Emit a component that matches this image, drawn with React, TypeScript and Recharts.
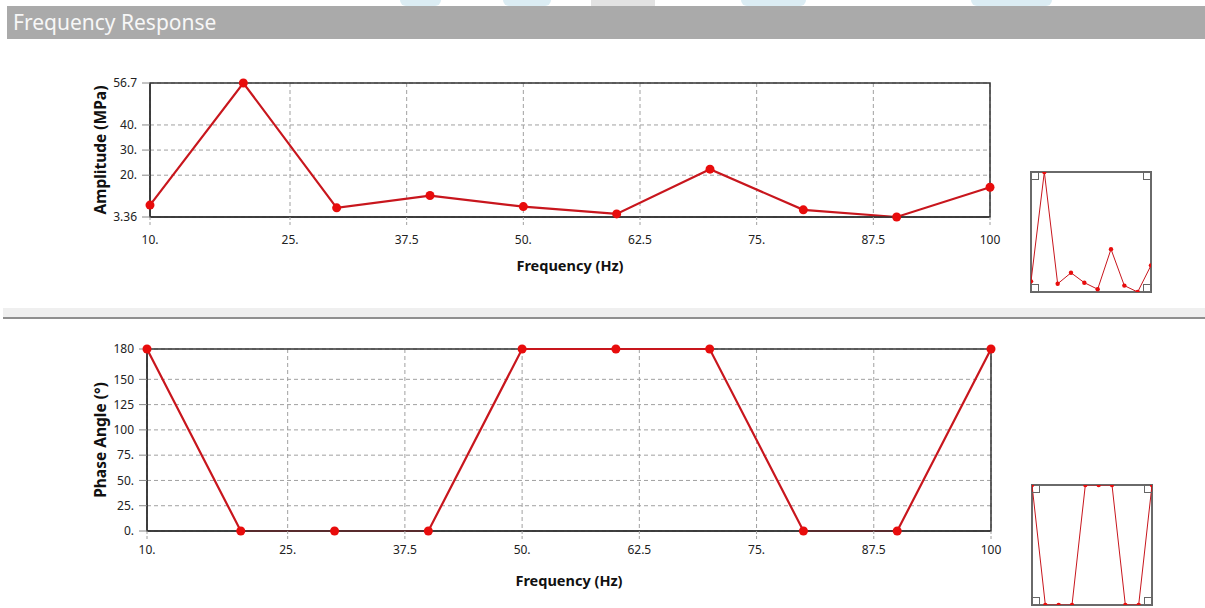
import React from 'react';
import { LineChart, Line, XAxis, YAxis, CartesianGrid, ReferenceArea, Label } from 'recharts';

// frequency sweep samples
const freqs = [10, 20, 30, 40, 50, 60, 70, 80, 90, 100];
const amplitude = [8.1, 56.7, 7.0, 11.9, 7.5, 4.6, 22.4, 6.2, 3.36, 15.2];
const phase = [180, 0, 0, 0, 180, 180, 180, 0, 0, 180];

const freqTicks = [10, 25, 37.5, 50, 62.5, 75, 87.5, 100];
const freqTickLabels = ['10.', '25.', '37.5', '50.', '62.5', '75.', '87.5', '100'];
const ampTicks = [3.36, 20, 30, 40, 56.7];
const ampTickLabels = ['3.36', '20.', '30.', '40.', '56.7'];
const phaseTicks = [0, 25, 50, 75, 100, 125, 150, 180];
const phaseTickLabels = ['0.', '25.', '50.', '75.', '100', '125', '150', '180'];

const ampData = freqs.map((f, i) => ({ freq: f, value: amplitude[i] }));
const phaseData = freqs.map((f, i) => ({ freq: f, value: phase[i] }));

const FONT = '"Noto Sans", "Open Sans", sans-serif';
const LINE = '#c8161d';
const DOT = '#e80c0c';

const fmt = (ticks: number[], labels: string[]) => (v: number) => {
  const i = ticks.indexOf(v);
  return i >= 0 ? labels[i] : String(v);
};

const tickStyle = { fontSize: 12, fill: '#222', fontFamily: FONT };
const titleStyle = { fontSize: 14.5, fontWeight: 700, fill: '#111', fontFamily: FONT };

type PanelProps = {
  data: { freq: number; value: number }[];
  yDomain: [number, number];
  yTicks: number[];
  yLabels: string[];
  yTitle: string;
  top: number;
  height: number;
  margin: { top: number; right: number; left: number; bottom: number };
  xTickMargin: number;
  xTitleOffset: number;
  yTitleOffset: number;
};

const Panel = (p: PanelProps) => (
  <div style={{ position: 'absolute', left: 0, top: p.top }}>
    <LineChart width={1020} height={p.height} data={p.data} margin={p.margin}>
      <CartesianGrid stroke="#a0a0a0" strokeDasharray="4 3" />
      <XAxis
        dataKey="freq"
        type="number"
        domain={[10, 100]}
        ticks={freqTicks}
        tickFormatter={fmt(freqTicks, freqTickLabels)}
        height={60}
        tick={tickStyle}
        tickSize={8}
        tickMargin={p.xTickMargin}
        tickLine={{ stroke: '#a0a0a0', strokeDasharray: '3 2' }}
        axisLine={{ stroke: '#333', strokeWidth: 1.5 }}
      >
        <Label value="Frequency (Hz)" position="insideTop" offset={p.xTitleOffset} style={titleStyle} />
      </XAxis>
      <YAxis
        type="number"
        domain={p.yDomain}
        ticks={p.yTicks}
        tickFormatter={fmt(p.yTicks, p.yLabels)}
        width={60}
        tick={tickStyle}
        tickSize={8}
        tickMargin={5}
        tickLine={{ stroke: '#888' }}
        axisLine={{ stroke: '#333', strokeWidth: 1.5 }}
      >
        <Label
          value={p.yTitle}
          angle={-90}
          position="insideLeft"
          offset={p.yTitleOffset}
          style={{ ...titleStyle, fontSize: 15.5, textAnchor: 'middle' }}
        />
      </YAxis>
      <ReferenceArea x1={10} x2={100} y1={p.yDomain[0]} y2={p.yDomain[1]} fill="none" stroke="#333" strokeWidth={1.5} />
      <Line
        dataKey="value"
        stroke={LINE}
        strokeWidth={2.2}
        dot={{ r: 4.5, fill: DOT, stroke: DOT, strokeWidth: 0 }}
        isAnimationActive={false}
      />
    </LineChart>
  </div>
);

// small overview thumbnail with corner handles
const Thumb = ({ data, yDomain, left, top }: { data: { freq: number; value: number }[]; yDomain: [number, number]; left: number; top: number }) => {
  const size = 122;
  const corner = (pos: React.CSSProperties) => (
    <div style={{ position: 'absolute', width: 9, height: 9, border: '1.5px solid #666', boxSizing: 'border-box', ...pos }} />
  );
  return (
    <div style={{ position: 'absolute', left, top, width: size, height: size, border: '2px solid #6a6a6a', boxSizing: 'border-box' }}>
      <div style={{ position: 'absolute', left: -1, top: -1 }}>
        <LineChart width={size - 2} height={size - 2} data={data} margin={{ top: 0, right: 0, left: 0, bottom: 0 }}>
          <XAxis dataKey="freq" type="number" domain={[10, 100]} hide />
          <YAxis type="number" domain={yDomain} hide />
          <Line dataKey="value" stroke={LINE} strokeWidth={1} dot={{ r: 2.2, fill: DOT, stroke: DOT, strokeWidth: 0 }} isAnimationActive={false} />
        </LineChart>
      </div>
      {corner({ left: -2, top: -2 })}
      {corner({ right: -2, top: -2 })}
      {corner({ left: -2, bottom: -2 })}
      {corner({ right: -2, bottom: -2 })}
    </div>
  );
};

export default function App() {
  return (
    <div style={{ position: 'absolute', left: 0, top: 0, width: 1205, height: 608, background: '#fff', overflow: 'hidden', fontFamily: FONT }}>
      {/* faint header decorations */}
      {[[400, 41], [503, 48], [741, 65], [971, 81]].map(([x, w]) => (
        <div key={x} style={{ position: 'absolute', left: x, top: 0, width: w, height: 6, background: '#dbecf3', borderRadius: '0 0 6px 6px' }} />
      ))}
      <div style={{ position: 'absolute', left: 591, top: 0, width: 64, height: 6, background: '#e2e2e2' }} />

      <div style={{ position: 'absolute', left: 7, top: 6, width: 1198, height: 33, background: '#aaaaaa' }}>
        <div style={{ position: 'absolute', left: 6, top: 2, fontSize: 21, color: '#f7f7f7', whiteSpace: 'nowrap' }}>Frequency Response</div>
      </div>

      <Panel
        data={ampData}
        yDomain={[3.36, 56.7]}
        yTicks={ampTicks}
        yLabels={ampTickLabels}
        yTitle="Amplitude (MPa)"
        top={0}
        height={300}
        margin={{ top: 83, right: 30, left: 90, bottom: 23 }}
        xTickMargin={10}
        xTitleOffset={44}
        yTitleOffset={10}
      />

      <div style={{ position: 'absolute', left: 3, top: 308, width: 1202, height: 9, background: '#efefef' }} />
      <div style={{ position: 'absolute', left: 3, top: 317, width: 1202, height: 2, background: '#8f8f8f' }} />

      <Panel
        data={phaseData}
        yDomain={[0, 180]}
        yTicks={phaseTicks}
        yLabels={phaseTickLabels}
        yTitle="Phase Angle (°)"
        top={320}
        height={288}
        margin={{ top: 29, right: 29, left: 87, bottom: 17 }}
        xTickMargin={6}
        xTitleOffset={45}
        yTitleOffset={13}
      />

      <Thumb data={ampData} yDomain={[3.36, 56.7]} left={1030} top={171} />
      <Thumb data={phaseData} yDomain={[0, 180]} left={1031} top={484} />
    </div>
  );
}
